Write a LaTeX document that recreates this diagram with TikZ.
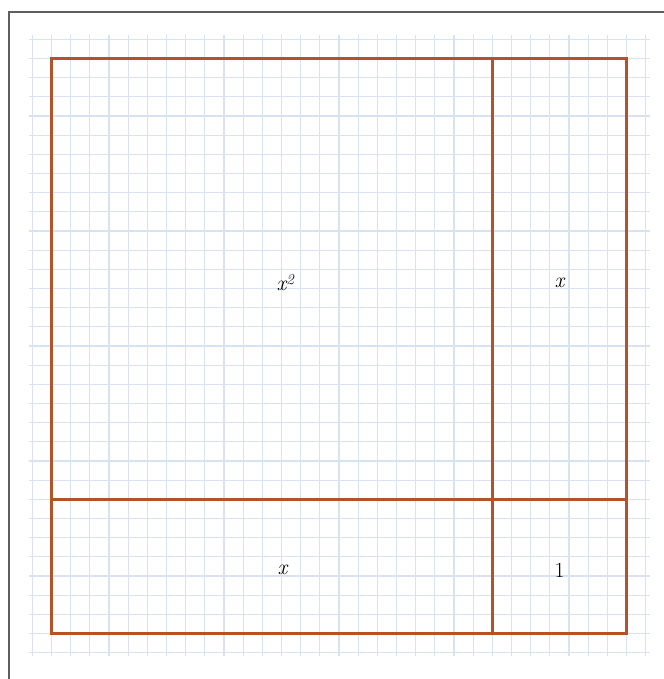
\documentclass[tikz,border=0pt]{standalone}
\usepackage{fontspec}
\usepackage{tikz}
\definecolor{gridblue}{HTML}{D8E2F2}
\definecolor{rust}{HTML}{B4522A}
\definecolor{framegray}{HTML}{5F5F5F}
\begin{document}
\begin{tikzpicture}[
  cell/.style={draw=rust, line width=4.4pt},
  lbl/.style={font=\fontsize{32}{38}\selectfont\itshape, inner sep=0pt}
]
\useasboundingbox (-2.687,-2.374) rectangle (31.95,33.05);
\draw[gridblue, line width=1.8pt] (-1.2,-1.2) grid[step=1] (31.2,31.2);
\draw[framegray, line width=3pt] (-2.217,-3) -- (-2.217,32.42) -- (33,32.42);
\coordinate (bl) at (0,0);
\coordinate (tr) at (30,30);
\coordinate (mb) at (23,0);
\coordinate (mt) at (23,30);
\coordinate (ml) at (0,7);
\coordinate (mr) at (30,7);
\draw[cell, line join=miter] (bl) rectangle (tr);
\draw[cell] (mb) -- (mt);
\draw[cell] (ml) -- (mr);
\node[lbl] (sq) at (12.2,18.3) {x\textsuperscript{2}};
\node[lbl] (xr) at (26.5,18.3) {x};
\node[lbl] (xb) at (12.05,3.3) {x};
\node[lbl] (one) at (26.5,3.3) {\upshape 1};
\end{tikzpicture}
\end{document}
